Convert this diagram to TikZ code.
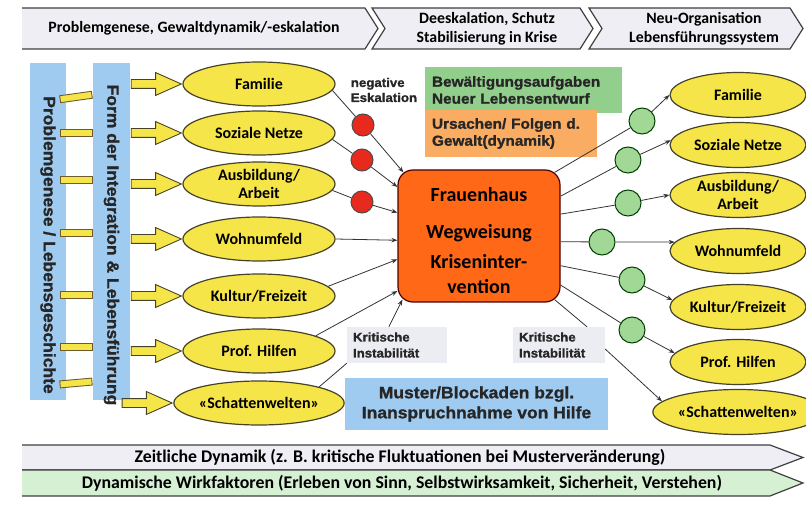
\documentclass[tikz,border=0pt]{standalone}
\usepackage{fontspec}
\setmainfont{Carlito}
\newfontfamily\arialfont{Liberation Sans}[FakeStretch=1.06, BoldFeatures={FakeBold=1.2}]
\usetikzlibrary{shapes,arrows.meta,positioning,calc}

\definecolor{barblue}{RGB}{160,203,240}
\definecolor{ellyellow}{RGB}{246,229,72}
\definecolor{elledge}{RGB}{70,66,40}
\definecolor{hubred}{RGB}{255,104,22}
\definecolor{negred}{RGB}{232,42,30}
\definecolor{posgreen}{RGB}{162,216,150}
\definecolor{taskgreen}{RGB}{146,206,140}
\definecolor{causeorange}{RGB}{250,172,98}
\definecolor{critgray}{RGB}{236,236,243}
\definecolor{chevgray}{RGB}{238,238,244}
\definecolor{chevgreen}{RGB}{214,240,212}
\definecolor{tabbrown}{RGB}{110,90,45}

\begin{document}
\begin{tikzpicture}[x=1pt, y=1pt,
  chevron/.style={draw=black!75, line width=1.2pt, line join=miter},
  phase/.style={inner sep=0pt, align=center, font=\bfseries\fontsize{15.8}{19}\selectfont},
  flow/.style={inner sep=0pt, font=\bfseries\fontsize{17.8}{20}\selectfont},
  bar/.style={rectangle, fill=barblue, inner sep=0pt},
  bartext/.style={font=\arialfont\bfseries\fontsize{16.5}{18}\selectfont, text=black!85, inner sep=0pt},
  tab/.style={rectangle, draw=tabbrown, fill=ellyellow, line width=0.9pt, minimum width=32pt, minimum height=7pt, inner sep=0pt},
  fatarrow/.style={single arrow, draw=elledge, fill=ellyellow, line width=0.9pt, inner xsep=0pt, inner ysep=4pt, single arrow head extend=7pt, single arrow tip angle=48, minimum height=50pt},
  life/.style={ellipse, draw=elledge, fill=ellyellow, line width=1.2pt, minimum width=152pt, minimum height=44pt, inner sep=0pt, align=center, font=\bfseries\fontsize{16}{17.5}\selectfont},
  liferight/.style={life, minimum width=136pt, minimum height=45pt},
  escal/.style={circle, draw=black!70, fill=negred, line width=1pt, minimum size=22pt, inner sep=0pt},
  relief/.style={circle, draw=black!75!green, fill=posgreen, line width=1pt, minimum size=26pt, inner sep=0pt},
  hub/.style={rectangle, rounded corners=15pt, draw=black!70!red, fill=hubred, line width=1.2pt, minimum width=162pt, minimum height=132pt, align=center, font=\bfseries\fontsize{20}{24}\selectfont},
  task/.style={rectangle, inner sep=0pt, inner xsep=7pt, align=left, font=\arialfont\bfseries\fontsize{14.5}{17}\selectfont, text=black!85},
  crit/.style={rectangle, fill=critgray, inner sep=0pt, inner xsep=6pt, align=left, font=\arialfont\bfseries\fontsize{12.5}{16}\selectfont, text=black!85},
  note/.style={align=left, inner sep=0pt, font=\arialfont\bfseries\fontsize{12.5}{15}\selectfont, text=black!85},
  block/.style={rectangle, fill=barblue, inner sep=0pt, align=center, font=\arialfont\bfseries\fontsize{16.5}{20}\selectfont, text=black!85},
  link/.style={draw=black!80, line width=0.8pt},
  >={Stealth[length=6pt,width=4.5pt]}
]
\useasboundingbox (0,0) rectangle (806,504);

% Phases (top)
\draw[chevron, fill=chevgray] (22,496) -- (365,496) -- (378,475.5) -- (365,455) -- (22,455);
\draw[chevron, fill=chevgray] (372,496) -- (580,496) -- (593,475.5) -- (580,455) -- (372,455) -- (385,475.5) -- cycle;
\draw[chevron, fill=chevgray] (589,496) -- (790,496) -- (803,475.5) -- (790,455) -- (589,455) -- (602,475.5) -- cycle;
\node[phase] (ph1) at (194,475.5) {Problemgenese, Gewaltdynamik/-eskalation};
\node[phase] (ph2) at (487,475.5) {Deeskalation, Schutz\\Stabilisierung in Krise};
\node[phase] (ph3) at (704,475.5) {Neu-Organisation\\Lebensführungssystem};

% Time axis (bottom)
\draw[chevron, fill=chevgray] (22,59) -- (770,59) -- (803,46.5) -- (770,34) -- (22,34);
\draw[chevron, fill=chevgreen] (22,34) -- (770,34) -- (803,21) -- (770,8) -- (22,8);
\node[flow] (zeit) at (400,46.5) {Zeitliche Dynamik (z. B. kritische Fluktuationen bei Musterveränderung)};
\node[flow] (wirk) at (402,21) {Dynamische Wirkfaktoren (Erleben von Sinn, Selbstwirksamkeit, Sicherheit, Verstehen)};

% Side bars
\node[bar, minimum width=36pt, minimum height=337pt] (barL) at (48,272.5) {};
\node[bar, minimum width=37pt, minimum height=337pt] (barR) at (111.5,272.5) {};
\node[bartext, rotate=-90] (txtL) at (48,259) {Problemgenese / Lebensgeschichte};
\node[bartext, rotate=-90] (txtR) at (111.5,259) {Form der Integration \& Lebensführung};

% Life domains (left)
\node[life] (lf1) at (259,420) {Familie};
\node[life] (lf2) at (259,371) {Soziale Netze};
\node[life] (lf3) at (259,320) {Ausbildung/\\Arbeit};
\node[life] (lf4) at (259,265) {Wohnumfeld};
\node[life] (lf5) at (259,208) {Kultur/Freizeit};
\node[life] (lf6) at (259,153) {Prof. Hilfen};
\node[life] (lf7) at (259,101) {«Schattenwelten»};

% Life domains (right)
\node[liferight] (rf1) at (738,409) {Familie};
\node[liferight] (rf2) at (738,359) {Soziale Netze};
\node[liferight] (rf3) at (738,309) {Ausbildung/\\Arbeit};
\node[liferight] (rf4) at (738,253) {Wohnumfeld};
\node[liferight] (rf5) at (738,197) {Kultur/Freizeit};
\node[liferight] (rf6) at (738,142) {Prof. Hilfen};
\node[liferight] (rf7) at (738,92) {«Schattenwelten»};

% Tabs and arrows from the bars
\foreach \y/\r [count=\i] in {407/8,371/0,324/0,271/0,209/0,157/0,121/5}
  \node[tab, rotate=\r] (tab\i) at (76,\y) {};
\foreach \i in {1,...,7}
  \node[fatarrow, anchor=tip] (ya\i) at (lf\i.west) {};

% Crisis intervention
\node[hub] (hub) at (479,268) {\rule{0pt}{23pt}Frauenhaus\\[13pt]Wegweisung\\[6pt]Kriseninter-\\[1pt]vention};

% Notes
\node[task, fill=taskgreen, minimum width=197pt, minimum height=46pt, text width=183pt] (tasks) at (523.5,414) {Bewältigungsaufgaben\\Neuer Lebensentwurf};
\node[task, fill=causeorange, minimum width=172pt, minimum height=47pt, text width=158pt] (causes) at (511,370.5) {Ursachen/ Folgen d.\\Gewalt(dynamik)};
\node[note] (esk) at (384,414) {negative\\Eskalation};
\node[crit, minimum width=100pt, minimum height=36pt, text width=88pt] (kl) at (397,159) {Kritische\\Instabilität};
\node[crit, minimum width=92pt, minimum height=36pt, text width=80pt] (kr) at (559,159) {Kritische\\Instabilität};
\node[block, minimum width=263pt, minimum height=52pt] (blk) at (476.5,100) {Muster/Blockaden bzgl.\\Inanspruchnahme von Hilfe};

% Escalation and crisis points
\node[escal] (r1) at (363,379) {};
\node[escal] (r2) at (362,344) {};
\node[escal] (r3) at (362,302) {};
\node[relief] (g1) at (642,383) {};
\node[relief] (g2) at (628,344) {};
\node[relief] (g3) at (628,301) {};
\node[relief] (g4) at (602,262) {};
\node[relief] (g5) at (632,224) {};
\node[relief] (g6) at (632,174) {};

% Connections (left)
\draw[link] (lf1.-5) -- (r1);
\draw[link, ->] (r1) -- ($(hub.north west)+(6,-3)$);
\draw[link] (lf2.-5) -- (r2);
\draw[link, ->] (r2) -- (hub.149);
\draw[link] (lf3.-5) -- (r3);
\draw[link, ->] (r3) -- (hub.164);
\draw[link, ->] (lf4.east) -- (hub.183);
\draw[link, ->] (lf5.8) -- (hub.196);
\draw[link, ->] (lf6.15) -- (hub.214);
\draw[link] (lf7.15) -- (kl.south west);
\draw[link, ->] (kl.114) -- ($(hub.south west)+(5,3)$);

% Connections (right)
\draw[link] ($(hub.north east)+(-6,-3)$) -- (g1);
\draw[link, ->] (g1) -- (rf1.west);
\draw[link] (hub.26) -- (g2);
\draw[link, ->] (g2) -- (rf2.176);
\draw[link] (hub.15) -- (g3);
\draw[link, ->] (g3) -- (rf3.west);
\draw[link] (hub.-4) -- (g4);
\draw[link, ->] (g4) -- (rf4.172);
\draw[link] (hub.-20) -- (g5);
\draw[link, ->] (g5) -- (rf5.174);
\draw[link] (hub.-31) -- (g6);
\draw[link, ->] (g6) -- (rf6.172);
\draw[link] ($(hub.south east)+(-6,3)$) -- (kr.33);
\draw[link, ->] (kr.-5) -- (rf7.172);

\end{tikzpicture}
\end{document}
